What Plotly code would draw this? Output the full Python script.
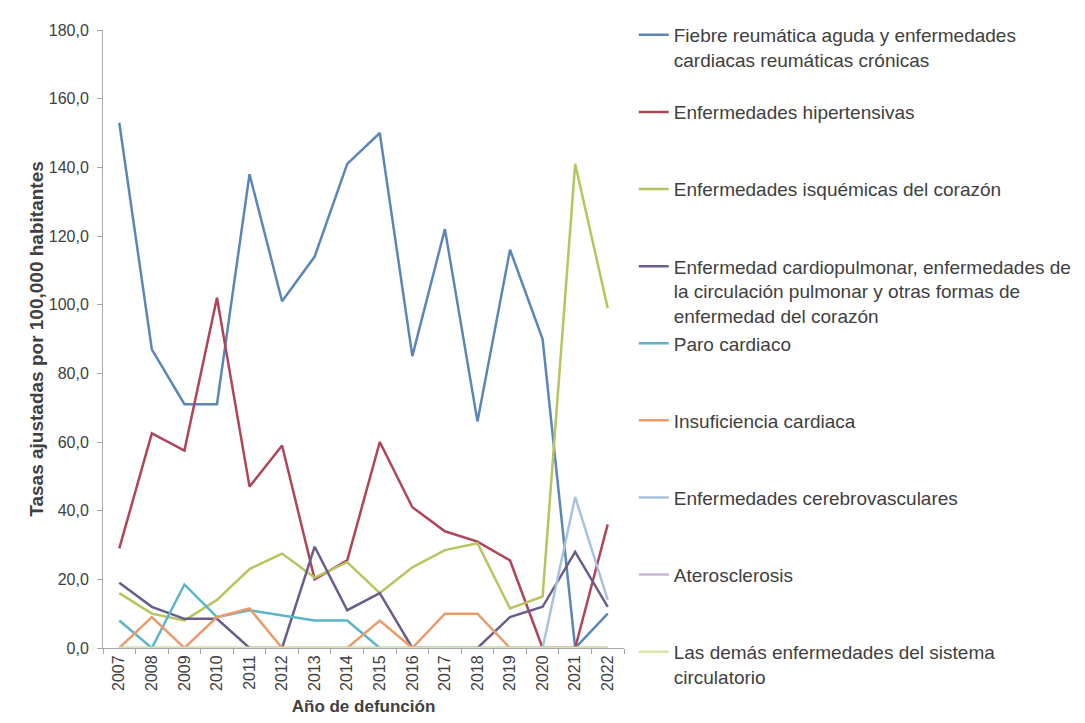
import plotly.graph_objects as go

years = [str(y) for y in range(2007, 2023)]

fiebre = [153, 87, 71, 71, 138, 101, 114, 141, 150, 85, 122, 66, 116, 90, 0, 10]
hipertensivas = [29, 62.5, 57.5, 102, 47, 59, 20, 25.5, 60, 41, 34, 31, 25.5, 0, 0, 36]
isquemicas = [16, 10, 8, 14, 23, 27.5, 20.5, 25, 16, 23.5, 28.5, 30.5, 11.5, 15, 141, 99]
cardiopulmonar = [19, 12, 8.5, 8.5, 0, 0, 29.5, 11, 16, 0, 0, 0, 9, 12, 28, 12]
paro = [8, 0, 18.5, 9, 11, 9.5, 8, 8, 0, 0, 0, 0, 0, 0, 0, 0]
insuficiencia = [0, 9, 0, 9, 11.5, 0, 0, 0, 8, 0, 10, 10, 0, 0, 0, 0]
cerebro = [0, 0, 0, 0, 0, 0, 0, 0, 0, 0, 0, 0, 0, 0, 44, 14]
atero = [0, 0, 0, 0, 0, 0, 0, 0, 0, 0, 0, 0, 0, 0, 0, 0]
demas = [0, 0, 0, 0, 0, 0, 0, 0, 0, 0, 0, 0, 0, 0, 0, 0]

names = [
    "Fiebre reumática aguda y enfermedades<br>cardiacas reumáticas crónicas<br> ",
    "Enfermedades hipertensivas<br> <br> ",
    "Enfermedades isquémicas del corazón<br> <br> ",
    "Enfermedad cardiopulmonar, enfermedades de<br>la circulación pulmonar y otras formas de<br>enfermedad del corazón",
    "Paro cardiaco<br> <br> ",
    "Insuficiencia cardiaca<br> <br> ",
    "Enfermedades cerebrovasculares<br> <br> ",
    "Aterosclerosis<br> <br> ",
    "Las demás enfermedades del sistema<br>circulatorio<br> ",
]
series = [fiebre, hipertensivas, isquemicas, cardiopulmonar, paro,
          insuficiencia, cerebro, atero, demas]
colors = ["#5b87b8", "#b0455a", "#b8c460", "#6a5c8c", "#5ab5c9",
          "#eb9b6b", "#a9c3de", "#c5b8d8", "#d8e5a4"]

fig = go.Figure()
for i in range(len(series)):
    fig.add_trace(go.Scatter(
        x=years, y=series[i], name=names[i], mode="lines",
        line=dict(color=colors[i], width=2.5),
    ))

fig.update_layout(
    width=1077, height=715,
    paper_bgcolor="white", plot_bgcolor="white",
    margin=dict(l=95, r=461, t=22, b=75, autoexpand=False),
    font=dict(family="Liberation Sans, Arial, sans-serif", color="#404040"),
    showlegend=True,
    separators=",.",
    legend=dict(
        xref="container", yref="container",
        x=0.581, y=0.9888, xanchor="left", yanchor="top",
        valign="top", itemwidth=30, traceorder="normal",
        maxheight=712,
        font=dict(size=19, color="#404040"),
        bgcolor="rgba(0,0,0,0)",
    ),
)
fig.update_yaxes(
    range=[0, 180], dtick=20, tickformat=".1f",
    showgrid=False, zeroline=False, automargin=False,
    showline=True, linecolor="#a6a6a6", linewidth=1,
    ticks="outside", ticklen=5, tickcolor="#a6a6a6",
    ticklabelstandoff=5,
    tickfont=dict(size=16, color="#404040"),
    title=dict(text="<b>Tasas ajustadas por 100,000 habitantes</b>",
               font=dict(size=19, color="#404040"), standoff=0),
)
fig.update_xaxes(
    type="category", range=[-0.5, 15.5], tickangle=-90,
    showgrid=False, zeroline=False, automargin=False,
    showline=True, linecolor="#a6a6a6", linewidth=1,
    ticks="outside", ticklen=5, tickcolor="#a6a6a6", tickson="boundaries",
    tickfont=dict(size=16, color="#404040"),
    title=dict(text="<b>Año de defunción</b>",
               font=dict(size=17, color="#404040"), standoff=10),
)

fig.write_html("out.html")
